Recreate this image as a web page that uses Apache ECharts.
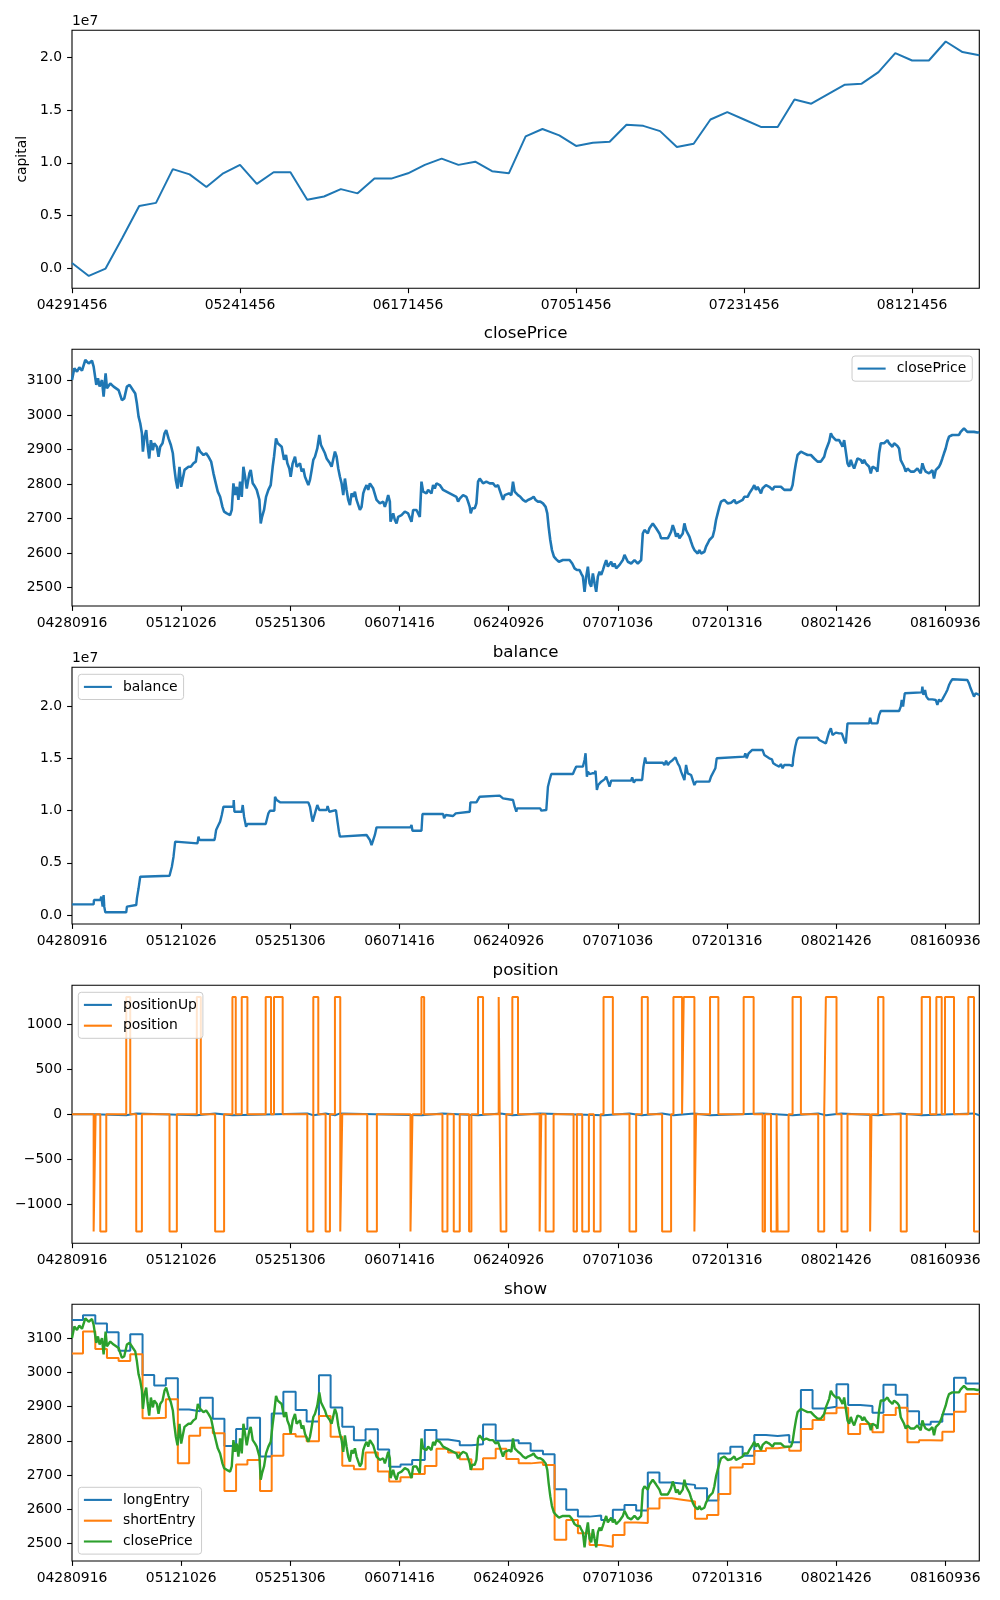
<!DOCTYPE html>
<html><head><meta charset="utf-8">
<script src="https://cdn.jsdelivr.net/npm/echarts@6/dist/echarts.min.js"></script>
<style>html,body{margin:0;padding:0;background:#fff}#c{width:1000px;height:1600px}</style>
</head><body><div id="c"></div>
<script>
// ---------- data ----------
const capitalTickLabels = ['04291456','05241456','06171456','07051456','07231456','08121456'];
const capitalTickStep = 10;
const capital = [0.05e7,-0.073e7,-0.003e7,0.29e7,0.59e7,0.62e7,0.94e7,0.89e7,0.77e7,0.90e7,0.98e7,0.80e7,0.91e7,0.91e7,0.65e7,0.68e7,0.75e7,0.71e7,0.85e7,0.85e7,0.90e7,0.98e7,1.04e7,0.98e7,1.01e7,0.92e7,0.90e7,1.25e7,1.32e7,1.26e7,1.16e7,1.19e7,1.20e7,1.36e7,1.35e7,1.30e7,1.15e7,1.18e7,1.41e7,1.48e7,1.41e7,1.34e7,1.34e7,1.60e7,1.56e7,1.65e7,1.74e7,1.75e7,1.86e7,2.04e7,1.97e7,1.97e7,2.15e7,2.05e7,2.02e7];

const barTickLabels = ['04280916','05121026','05251306','06071416','06240926','07071036','07201316','08021426','08160936'];
const barsPerTick = 328;
const lastBar = 2726;

const closePrice = [[0,3101],[7,3135],[15,3125],[22,3138],[30,3128],[35,3130],[40,3159],[50,3149],[60,3157],[65,3140],[73,3087],[78,3106],[83,3082],[90,3101],[95,3053],[101,3120],[103,3122],[105,3077],[115,3091],[125,3082],[140,3072],[150,3043],[157,3048],[165,3082],[173,3087],[183,3072],[190,3062],[195,3033],[200,2995],[205,2976],[210,2947],[213,2894],[218,2937],[223,2956],[227,2913],[232,2874],[237,2927],[243,2898],[247,2918],[255,2908],[260,2879],[265,2908],[272,2918],[278,2947],[283,2956],[290,2932],[297,2913],[303,2889],[307,2850],[312,2812],[317,2787],[323,2850],[328,2792],[333,2787],[338,2841],[343,2836],[350,2850],[357,2850],[365,2860],[372,2865],[378,2908],[385,2894],[395,2884],[403,2889],[410,2879],[418,2865],[425,2831],[432,2802],[438,2778],[445,2763],[452,2734],[457,2720],[465,2715],[475,2710],[480,2725],[485,2802],[490,2768],[495,2792],[500,2754],[505,2807],[510,2763],[515,2850],[520,2821],[525,2787],[533,2831],[537,2841],[543,2802],[550,2792],[555,2783],[563,2754],[567,2686],[571,2705],[577,2725],[583,2763],[590,2783],[597,2797],[603,2850],[607,2879],[613,2932],[618,2918],[623,2913],[630,2908],[637,2870],[643,2884],[647,2860],[653,2845],[657,2821],[663,2860],[670,2879],[675,2850],[680,2845],[685,2860],[690,2836],[695,2845],[700,2821],[705,2826],[710,2797],[715,2812],[720,2840],[725,2870],[730,2879],[737,2903],[743,2942],[748,2913],[753,2918],[760,2889],[765,2874],[770,2870],[775,2860],[780,2850],[785,2855],[790,2894],[795,2879],[800,2845],[805,2821],[810,2802],[815,2768],[820,2816],[825,2783],[830,2754],[835,2739],[840,2773],[845,2763],[850,2778],[855,2754],[860,2749],[865,2725],[870,2734],[875,2773],[880,2787],[885,2797],[890,2783],[895,2802],[900,2807],[905,2787],[910,2783],[915,2754],[920,2749],[925,2744],[930,2739],[935,2749],[940,2734],[945,2749],[950,2768],[955,2749],[957,2691],[960,2700],[965,2715],[970,2696],[975,2686],[980,2705],[985,2700],[990,2710],[995,2715],[1000,2720],[1005,2720],[1010,2715],[1015,2715],[1020,2691],[1025,2725],[1030,2730],[1035,2725],[1040,2720],[1045,2705],[1050,2807],[1055,2778],[1060,2778],[1065,2773],[1070,2783],[1075,2778],[1080,2773],[1085,2797],[1090,2787],[1095,2802],[1105,2797],[1115,2783],[1125,2778],[1135,2773],[1145,2768],[1155,2763],[1160,2749],[1165,2758],[1175,2768],[1185,2763],[1190,2749],[1195,2734],[1198,2715],[1203,2730],[1210,2730],[1215,2744],[1220,2807],[1225,2816],[1230,2812],[1235,2802],[1245,2807],[1255,2802],[1265,2802],[1273,2792],[1280,2797],[1285,2802],[1295,2754],[1300,2768],[1305,2763],[1313,2773],[1320,2768],[1325,2807],[1330,2778],[1335,2773],[1340,2768],[1347,2763],[1355,2754],[1363,2749],[1370,2754],[1380,2758],[1387,2763],[1393,2754],[1400,2749],[1407,2749],[1415,2744],[1423,2734],[1428,2715],[1432,2677],[1437,2638],[1442,2609],[1448,2590],[1455,2582],[1463,2575],[1475,2580],[1485,2580],[1495,2580],[1503,2570],[1510,2556],[1517,2551],[1525,2551],[1530,2541],[1535,2532],[1540,2488],[1545,2532],[1550,2561],[1555,2513],[1560,2503],[1565,2541],[1570,2513],[1575,2488],[1580,2532],[1585,2546],[1590,2537],[1595,2551],[1600,2566],[1605,2580],[1610,2561],[1615,2566],[1620,2575],[1625,2561],[1630,2570],[1635,2556],[1640,2561],[1645,2566],[1650,2570],[1655,2580],[1660,2595],[1665,2590],[1670,2575],[1675,2575],[1680,2570],[1685,2570],[1690,2580],[1695,2575],[1700,2570],[1705,2570],[1710,2580],[1715,2657],[1720,2667],[1725,2662],[1730,2657],[1735,2672],[1740,2667],[1745,2686],[1750,2681],[1755,2672],[1760,2667],[1765,2657],[1770,2643],[1775,2638],[1780,2643],[1785,2648],[1790,2643],[1795,2652],[1800,2662],[1805,2681],[1810,2667],[1815,2648],[1820,2657],[1825,2643],[1830,2638],[1835,2657],[1840,2686],[1845,2667],[1850,2657],[1855,2648],[1860,2633],[1865,2619],[1870,2609],[1875,2604],[1880,2599],[1885,2609],[1890,2599],[1895,2595],[1900,2604],[1905,2619],[1910,2628],[1915,2638],[1920,2633],[1925,2648],[1930,2667],[1935,2696],[1940,2715],[1945,2734],[1950,2749],[1955,2749],[1960,2754],[1965,2749],[1970,2744],[1975,2749],[1980,2746],[1985,2749],[1990,2754],[1995,2744],[2000,2749],[2005,2749],[2010,2744],[2015,2754],[2020,2763],[2025,2768],[2030,2763],[2035,2773],[2040,2778],[2045,2788],[2050,2797],[2055,2783],[2060,2792],[2065,2783],[2070,2773],[2075,2788],[2080,2792],[2085,2797],[2090,2802],[2095,2792],[2100,2788],[2105,2783],[2110,2792],[2115,2797],[2120,2792],[2125,2788],[2130,2792],[2135,2788],[2140,2783],[2145,2788],[2150,2783],[2155,2788],[2160,2783],[2165,2797],[2170,2831],[2175,2860],[2180,2884],[2185,2889],[2190,2894],[2195,2894],[2200,2889],[2205,2889],[2210,2884],[2215,2879],[2220,2884],[2225,2879],[2230,2874],[2235,2870],[2240,2865],[2245,2860],[2250,2865],[2255,2870],[2260,2879],[2265,2898],[2270,2903],[2275,2923],[2280,2947],[2285,2937],[2290,2932],[2295,2927],[2300,2932],[2305,2927],[2310,2918],[2315,2908],[2320,2927],[2325,2923],[2330,2860],[2335,2850],[2340,2870],[2345,2855],[2350,2845],[2355,2850],[2360,2874],[2365,2879],[2370,2870],[2375,2860],[2380,2870],[2385,2860],[2390,2865],[2395,2850],[2400,2831],[2405,2850],[2410,2855],[2415,2845],[2420,2836],[2425,2889],[2430,2918],[2435,2913],[2440,2918],[2445,2913],[2450,2927],[2455,2918],[2460,2913],[2465,2908],[2470,2918],[2475,2913],[2480,2910],[2485,2903],[2490,2869],[2495,2865],[2500,2850],[2505,2836],[2510,2845],[2515,2850],[2520,2836],[2525,2840],[2530,2836],[2535,2831],[2540,2845],[2545,2840],[2550,2831],[2555,2860],[2560,2845],[2565,2836],[2570,2831],[2575,2831],[2580,2826],[2585,2840],[2590,2816],[2595,2840],[2600,2845],[2605,2850],[2610,2860],[2615,2874],[2620,2889],[2625,2903],[2630,2923],[2635,2937],[2640,2942],[2645,2942],[2650,2947],[2655,2942],[2660,2947],[2665,2942],[2670,2951],[2675,2956],[2680,2961],[2685,2956],[2690,2951],[2695,2947],[2700,2951],[2705,2947],[2710,2951],[2715,2947],[2720,2949],[2726,2950]];

const balance = [[0,0.102e7],[65,0.102e7],[66,0.144e7],[85,0.144e7],[88,0.176e7],[92,0.080e7],[95,0.192e7],[97,0.080e7],[100,0.026e7],[163,0.026e7],[165,0.080e7],[170,0.096e7],[193,0.096e7],[195,0.160e7],[200,0.256e7],[205,0.367e7],[210,0.377e7],[293,0.377e7],[295,0.367e7],[300,0.463e7],[305,0.559e7],[310,0.703e7],[313,0.687e7],[377,0.687e7],[380,0.751e7],[383,0.719e7],[428,0.719e7],[430,0.751e7],[433,0.815e7],[440,0.863e7],[445,0.895e7],[450,0.958e7],[455,1.038e7],[485,1.038e7],[486,1.102e7],[488,0.990e7],[510,0.990e7],[513,1.054e7],[517,0.942e7],[523,0.847e7],[527,0.872e7],[582,0.872e7],[585,0.911e7],[590,0.974e7],[595,1.000e7],[608,1.000e7],[610,1.134e7],[615,1.102e7],[625,1.080e7],[710,1.080e7],[715,1.038e7],[720,0.942e7],[723,0.895e7],[730,0.974e7],[737,1.054e7],[743,1.006e7],[765,1.006e7],[768,1.045e7],[773,0.990e7],[775,1.006e7],[793,1.006e7],[797,0.911e7],[802,0.799e7],[805,0.751e7],[808,0.767e7],[885,0.767e7],[890,0.783e7],[895,0.719e7],[900,0.671e7],[905,0.719e7],[910,0.767e7],[915,0.840e7],[1017,0.840e7],[1020,0.863e7],[1023,0.808e7],[1050,0.808e7],[1053,0.968e7],[1115,0.968e7],[1118,0.927e7],[1123,0.958e7],[1145,0.949e7],[1148,0.942e7],[1153,0.974e7],[1155,0.990e7],[1195,0.990e7],[1197,1.080e7],[1215,1.080e7],[1220,1.070e7],[1225,1.134e7],[1230,1.144e7],[1285,1.144e7],[1290,1.150e7],[1295,1.118e7],[1300,1.102e7],[1325,1.102e7],[1330,1.038e7],[1335,0.990e7],[1337,1.022e7],[1407,1.022e7],[1410,1.000e7],[1425,1.006e7],[1430,1.230e7],[1435,1.294e7],[1440,1.351e7],[1505,1.351e7],[1510,1.390e7],[1515,1.422e7],[1535,1.422e7],[1540,1.486e7],[1543,1.550e7],[1547,1.326e7],[1550,1.374e7],[1555,1.351e7],[1563,1.358e7],[1570,1.358e7],[1573,1.383e7],[1577,1.198e7],[1581,1.246e7],[1585,1.230e7],[1590,1.278e7],[1595,1.262e7],[1600,1.300e7],[1605,1.326e7],[1610,1.278e7],[1615,1.230e7],[1620,1.288e7],[1680,1.288e7],[1683,1.319e7],[1688,1.268e7],[1693,1.294e7],[1713,1.294e7],[1717,1.422e7],[1722,1.511e7],[1725,1.460e7],[1775,1.460e7],[1780,1.438e7],[1785,1.479e7],[1790,1.438e7],[1795,1.460e7],[1805,1.486e7],[1813,1.511e7],[1820,1.454e7],[1825,1.428e7],[1830,1.374e7],[1835,1.390e7],[1840,1.294e7],[1845,1.438e7],[1850,1.358e7],[1855,1.374e7],[1860,1.342e7],[1865,1.294e7],[1870,1.246e7],[1875,1.278e7],[1915,1.278e7],[1920,1.326e7],[1925,1.342e7],[1933,1.406e7],[1937,1.502e7],[1940,1.518e7],[2020,1.518e7],[2023,1.550e7],[2027,1.502e7],[2033,1.550e7],[2037,1.565e7],[2043,1.581e7],[2075,1.581e7],[2080,1.534e7],[2085,1.518e7],[2095,1.502e7],[2103,1.492e7],[2107,1.454e7],[2115,1.438e7],[2125,1.422e7],[2130,1.447e7],[2135,1.406e7],[2140,1.438e7],[2145,1.428e7],[2155,1.438e7],[2165,1.428e7],[2167,1.502e7],[2173,1.613e7],[2178,1.677e7],[2183,1.700e7],[2240,1.700e7],[2245,1.677e7],[2250,1.684e7],[2255,1.661e7],[2260,1.677e7],[2265,1.645e7],[2270,1.629e7],[2275,1.757e7],[2280,1.789e7],[2285,1.725e7],[2290,1.741e7],[2295,1.748e7],[2305,1.741e7],[2313,1.741e7],[2320,1.677e7],[2325,1.645e7],[2330,1.837e7],[2395,1.837e7],[2398,1.891e7],[2402,1.837e7],[2420,1.837e7],[2425,1.917e7],[2430,1.955e7],[2485,1.955e7],[2490,1.997e7],[2493,2.061e7],[2497,1.997e7],[2502,2.125e7],[2507,2.134e7],[2553,2.134e7],[2555,2.188e7],[2558,2.109e7],[2563,2.157e7],[2567,2.093e7],[2573,2.067e7],[2578,2.051e7],[2585,2.067e7],[2595,2.061e7],[2600,2.013e7],[2605,2.067e7],[2610,2.045e7],[2615,2.067e7],[2620,2.077e7],[2625,2.125e7],[2630,2.157e7],[2635,2.204e7],[2640,2.236e7],[2645,2.259e7],[2690,2.252e7],[2695,2.220e7],[2700,2.173e7],[2705,2.157e7],[2710,2.093e7],[2715,2.125e7],[2720,2.109e7],[2726,2.109e7]];

const position = [[0,0],[65,-1300],[71,0],[85,-1300],[103,0],[163,1300],[175,0],[193,-1300],[210,0],[293,-1300],[315,0],[375,1300],[387,0],[430,-1300],[457,0],[482,1300],[492,0],[510,1300],[527,0],[582,1300],[598,0],[607,1300],[633,0],[707,-1300],[725,1300],[740,0],[762,-1300],[775,0],[790,1300],[806,-1300],[812,0],[887,-1300],[916,0],[1017,-1300],[1023,0],[1050,1300],[1058,0],[1113,-1300],[1128,0],[1147,-1300],[1165,0],[1193,-1300],[1200,0],[1220,1300],[1235,0],[1282,1300],[1288,-1300],[1305,0],[1323,1300],[1340,0],[1405,-1300],[1410,0],[1423,-1300],[1447,0],[1507,-1300],[1517,0],[1533,-1300],[1553,0],[1568,-1300],[1588,0],[1597,1300],[1625,0],[1675,-1300],[1695,0],[1712,1300],[1730,0],[1773,-1300],[1800,0],[1807,1300],[1833,0],[1838,1300],[1870,-1300],[1875,0],[1917,1300],[1942,0],[2018,1300],[2048,0],[2075,-1300],[2082,0],[2100,-1300],[2117,0],[2120,-1300],[2153,0],[2165,1300],[2190,0],[2242,-1300],[2260,0],[2265,1300],[2297,0],[2312,-1300],[2330,0],[2398,-1300],[2402,0],[2422,1300],[2438,0],[2490,-1300],[2508,0],[2553,1300],[2578,0],[2597,1300],[2613,0],[2623,1300],[2650,0],[2693,1300],[2710,-1300],[2726,-1300]];

const positionUp = [[0,0],[65,-10],[163,10],[193,-10],[375,10],[430,-10],[482,10],[707,-10],[725,10],[762,-10],[790,10],[806,-10],[1050,10],[1113,-10],[1220,10],[1288,-10],[1323,10],[1405,-10],[1597,10],[1675,-10],[1712,10],[1773,-10],[1807,10],[1870,-10],[1917,10],[2075,-10],[2165,10],[2242,-10],[2265,10],[2312,-10],[2422,10],[2490,-10],[2553,10],[2710,-10],[2726,-10]];

const longEntry = [[0,3154],[33,3168],[70,3144],[105,3118],[140,3064],[175,3112],[212,2993],[247,2962],[282,2983],[318,2892],[352,2887],[385,2926],[423,2865],[458,2785],[493,2835],[527,2868],[565,2754],[600,2880],[635,2944],[672,2890],[705,2857],[742,2992],[777,2898],[812,2841],[847,2802],[882,2834],[919,2775],[953,2724],[987,2731],[1022,2744],[1060,2832],[1095,2804],[1130,2799],[1165,2787],[1200,2790],[1235,2848],[1273,2800],[1305,2802],[1342,2793],[1378,2771],[1415,2761],[1450,2658],[1485,2598],[1520,2578],[1555,2581],[1590,2568],[1625,2598],[1660,2612],[1695,2596],[1730,2707],[1765,2678],[1802,2674],[1838,2671],[1872,2661],[1908,2625],[1942,2763],[1978,2783],[2015,2756],[2050,2817],[2085,2814],[2120,2817],[2155,2796],[2190,2949],[2225,2895],[2260,2900],[2297,2966],[2332,2905],[2368,2902],[2405,2882],[2438,2964],[2475,2935],[2510,2887],[2545,2848],[2580,2856],[2615,2878],[2650,2985],[2685,2968],[2726,2968]];

const shortEntry = [[0,3056],[33,3120],[70,3069],[105,3043],[140,3034],[175,3054],[212,2866],[247,2868],[282,2922],[318,2734],[352,2815],[385,2838],[423,2822],[458,2653],[493,2731],[527,2744],[565,2653],[600,2756],[635,2820],[672,2813],[705,2799],[742,2873],[777,2812],[812,2727],[847,2717],[882,2766],[919,2710],[953,2681],[987,2693],[1022,2703],[1060,2726],[1095,2777],[1130,2766],[1165,2746],[1200,2717],[1235,2749],[1273,2777],[1305,2747],[1342,2734],[1378,2737],[1415,2729],[1450,2510],[1485,2568],[1520,2529],[1555,2495],[1590,2490],[1625,2524],[1660,2561],[1695,2559],[1730,2602],[1765,2632],[1802,2627],[1838,2622],[1872,2572],[1908,2583],[1942,2644],[1978,2722],[2015,2732],[2050,2770],[2085,2778],[2120,2783],[2155,2771],[2190,2835],[2225,2861],[2260,2881],[2297,2897],[2332,2820],[2368,2849],[2405,2825],[2438,2876],[2475,2897],[2510,2796],[2545,2802],[2580,2801],[2615,2827],[2650,2885],[2685,2937],[2726,2937]];

const e7Ticks = [0, 0.5e7, 1.0e7, 1.5e7, 2.0e7];
const priceTicks = [2500, 2600, 2700, 2800, 2900, 3000, 3100];
const positionTicks = [-1000, -500, 0, 500, 1000];

// ---------- chart ----------
const FONT = 'DejaVu Sans';
const FS = 13.9;
const BLUE = '#1f77b4', ORANGE = '#ff7f0e', GREEN = '#2ca02c';
const L = 72, W = 907.3;
const grids = [
  {left: L, top: 30.3, width: W, height: 258},
  {left: L, top: 349.3, width: W, height: 256.7},
  {left: L, top: 667.3, width: W, height: 256.7},
  {left: L, top: 985.3, width: W, height: 258},
  {left: L, top: 1304.3, width: W, height: 256.7}
].map(g => Object.assign({show: true, borderColor: '#000', borderWidth: 1.1, backgroundColor: 'transparent'}, g));

const tickStyle = {show: true, inside: false, length: 4.9, lineStyle: {color: '#000', width: 1.1}};
const labelStyle = {color: '#000', fontFamily: FONT, fontSize: FS, margin: 10};

function xAxisFor(i, max, ticks, labels, step) {
  return {
    type: 'value', gridIndex: i, min: 0, max: max, position: 'bottom',
    axisLine: {show: false, onZero: false}, splitLine: {show: false},
    axisTick: Object.assign({customValues: ticks}, tickStyle),
    axisLabel: Object.assign({customValues: ticks, formatter: v => labels[Math.round(v / step)]}, labelStyle)
  };
}
function yAxisFor(i, min, max, ticks, fmt, extra) {
  return Object.assign({
    type: 'value', gridIndex: i, min: min, max: max, position: 'left',
    axisLine: {show: false, onZero: false}, splitLine: {show: false},
    axisTick: Object.assign({customValues: ticks}, tickStyle),
    axisLabel: Object.assign({customValues: ticks, formatter: fmt}, labelStyle)
  }, extra || {});
}
const capTicksX = capitalTickLabels.map((_, k) => k * capitalTickStep);
const barTicksX = barTickLabels.map((_, k) => k * barsPerTick);
const fmtE7 = v => (v / 1e7).toFixed(1);
const fmtInt = v => v < 0 ? '\u2212' + Math.abs(v) : String(v);

function lineSeries(name, data, color, xi, width, extra) {
  return Object.assign({
    type: 'line', name: name, data: data, xAxisIndex: xi, yAxisIndex: xi,
    symbol: 'none', showSymbol: false, lineStyle: {color: color, width: width}, itemStyle: {color: color},
    emphasis: {disabled: true}, animation: false, clip: true, z: 2
  }, extra || {});
}

const legendBase = {
  orient: 'vertical', padding: [5.6, 6, 5.6, 5.6], itemWidth: 28, itemHeight: 2.1, itemGap: 6.8,
  icon: 'rect',
  borderColor: '#cccccc', borderWidth: 1, borderRadius: 3, backgroundColor: 'rgba(255,255,255,0.8)',
  textStyle: {fontFamily: FONT, fontSize: FS, color: '#000', padding: [0, 0, 0, 6], lineHeight: 14},
  selectedMode: false, align: 'left', z: 10
};

const titleBase = (text, left, top, size, align) => ({
  text: text, left: left, top: top, padding: 0, textAlign: align,
  textStyle: {fontFamily: FONT, fontSize: size, fontWeight: 'normal', color: '#000'}
});

const option = {
  backgroundColor: '#fff',
  animation: false,
  title: [
    titleBase('1e7', 72, 14.5, FS, 'left'),
    titleBase('closePrice', 525.6, 325, 16.7, 'center'),
    titleBase('balance', 525.6, 644, 16.7, 'center'),
    titleBase('1e7', 72, 651, FS, 'left'),
    titleBase('position', 525.6, 962, 16.7, 'center'),
    titleBase('show', 525.6, 1281, 16.7, 'center')
  ],
  grid: grids,
  xAxis: [
    xAxisFor(0, capital.length - 1, capTicksX, capitalTickLabels, capitalTickStep),
    xAxisFor(1, lastBar, barTicksX, barTickLabels, barsPerTick),
    xAxisFor(2, lastBar, barTicksX, barTickLabels, barsPerTick),
    xAxisFor(3, lastBar, barTicksX, barTickLabels, barsPerTick),
    xAxisFor(4, lastBar, barTicksX, barTickLabels, barsPerTick)
  ],
  yAxis: [
    yAxisFor(0, -0.19e7, 2.256e7, e7Ticks, fmtE7, {name: 'capital', nameLocation: 'middle', nameGap: 34, nameRotate: 90,
      nameTextStyle: {fontFamily: FONT, fontSize: FS, color: '#000'}}),
    yAxisFor(1, 2447, 3190, priceTicks, fmtInt),
    yAxisFor(2, -0.086e7, 2.374e7, e7Ticks, fmtE7),
    yAxisFor(3, -1430, 1430, positionTicks, fmtInt),
    yAxisFor(4, 2448, 3200, priceTicks, fmtInt)
  ],
  legend: [
    Object.assign({}, legendBase, {data: ['closePrice'], right: 27.7, top: 356}),
    Object.assign({}, legendBase, {data: ['balance'], left: 78.3, top: 674.3}),
    Object.assign({}, legendBase, {data: ['positionUp', 'position'], left: 78.3, top: 992.3}),
    Object.assign({}, legendBase, {data: ['longEntry', 'shortEntry', 'show_closePrice'], left: 78.3, top: 1487.3,
      formatter: n => n === 'show_closePrice' ? 'closePrice' : n})
  ],
  series: [
    lineSeries('capital', capital.map((v, i) => [i, v]), BLUE, 0, 2),
    lineSeries('closePrice', closePrice, BLUE, 1, 2.6),
    lineSeries('balance', balance, BLUE, 2, 2.4),
    lineSeries('positionUp', positionUp, BLUE, 3, 2, {step: 'end'}),
    lineSeries('position', position, ORANGE, 3, 2, {step: 'end'}),
    lineSeries('longEntry', longEntry, BLUE, 4, 2, {step: 'end'}),
    lineSeries('shortEntry', shortEntry, ORANGE, 4, 2, {step: 'end'}),
    lineSeries('show_closePrice', closePrice, GREEN, 4, 2.4)
  ]
};

const chart = echarts.init(document.getElementById('c'), null, {renderer: 'canvas'});
chart.setOption(option);
</script>
</body></html>
